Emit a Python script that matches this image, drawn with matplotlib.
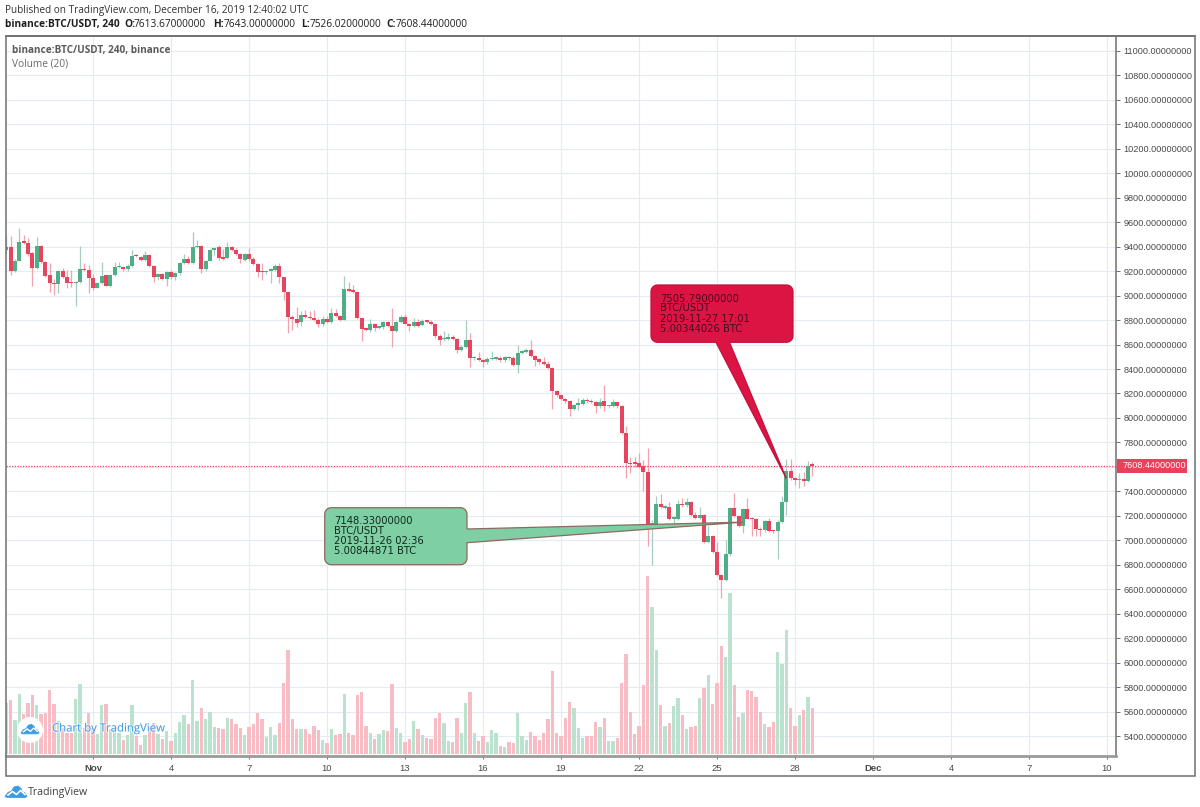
import numpy as np
import matplotlib
matplotlib.use('Agg')
import matplotlib.pyplot as plt
import matplotlib.patheffects as pe
from matplotlib.patches import Polygon, Rectangle, Circle
from matplotlib.transforms import IdentityTransform

W, H = 1200, 807

# bar index 0 = Nov 1 00:00, six 4h bars per day
FIRST_BAR = -20

OPEN = [
    9370, 9400, 9204, 9285, 9441, 9433, 9345, 9228, 9408, 9277,
    9168, 9100, 9095, 9204, 9155, 9105, 9100, 9108, 9217, 9209,
    9141, 9065, 9100, 9168, 9078, 9168, 9231, 9236, 9215, 9242,
    9326, 9318, 9291, 9335, 9242, 9155, 9176, 9135, 9195, 9155,
    9182, 9264, 9299, 9264, 9395, 9405, 9217, 9285, 9373, 9395,
    9310, 9310, 9395, 9373, 9340, 9291, 9340, 9296, 9258, 9204,
    9193, 9201, 9209, 9245, 9149, 9026, 8822, 8811, 8782, 8839,
    8828, 8815, 8804, 8765, 8812, 8782, 8855, 8834, 8804, 9055,
    9044, 9027, 8817, 8733, 8722, 8765, 8738, 8740, 8782, 8755,
    8708, 8782, 8828, 8771, 8749, 8782, 8757, 8790, 8787, 8768,
    8673, 8645, 8648, 8654, 8648, 8558, 8583, 8640, 8487, 8487,
    8476, 8455, 8482, 8482, 8493, 8471, 8498, 8493, 8433, 8531,
    8542, 8558, 8506, 8482, 8457, 8444, 8411, 8217, 8187, 8155,
    8135, 8075, 8108, 8116, 8144, 8138, 8130, 8095, 8135, 8095,
    8100, 8130, 8100, 7876, 7631, 7631, 7631, 7609, 7557, 7120,
    7135, 7298, 7268, 7271, 7176, 7176, 7293, 7285, 7312, 7203,
    7186, 7205, 6985, 7034, 6908, 6717, 6676, 6886, 7260, 7200,
    7118, 7255, 7178, 7170, 7096, 7080, 7159, 7077, 7075, 7148,
    7309, 7563, 7513, 7489, 7497, 7484, 7613.67]
CLOSE = [
    9400, 9204, 9285, 9441, 9433, 9337, 9223, 9408, 9277, 9163,
    9100, 9092, 9204, 9155, 9100, 9100, 9111, 9217, 9209, 9141,
    9065, 9100, 9163, 9081, 9168, 9234, 9236, 9215, 9242, 9326,
    9321, 9291, 9335, 9242, 9155, 9176, 9135, 9195, 9155, 9182,
    9264, 9299, 9264, 9395, 9405, 9217, 9285, 9373, 9389, 9310,
    9302, 9395, 9373, 9340, 9296, 9340, 9296, 9258, 9195, 9193,
    9201, 9217, 9245, 9149, 9026, 8822, 8806, 8773, 8839, 8828,
    8815, 8804, 8765, 8812, 8782, 8855, 8834, 8804, 9055, 9038,
    9027, 8817, 8727, 8722, 8765, 8735, 8744, 8782, 8755, 8708,
    8782, 8828, 8771, 8749, 8782, 8755, 8790, 8785, 8768, 8667,
    8640, 8654, 8654, 8648, 8558, 8583, 8640, 8487, 8493, 8476,
    8455, 8482, 8493, 8498, 8471, 8498, 8487, 8433, 8531, 8545,
    8558, 8506, 8476, 8455, 8444, 8411, 8217, 8187, 8155, 8135,
    8075, 8108, 8116, 8144, 8135, 8130, 8095, 8130, 8095, 8103,
    8130, 8095, 7876, 7631, 7623, 7625, 7601, 7557, 7132, 7140,
    7298, 7271, 7276, 7176, 7181, 7293, 7285, 7312, 7203, 7186,
    7205, 6985, 7034, 6908, 6717, 6676, 6886, 7260, 7200, 7118,
    7255, 7178, 7170, 7096, 7080, 7159, 7075, 7072, 7148, 7309,
    7563, 7508, 7492, 7497, 7484, 7609, 7608.44]
HIGH = [
    9487, 9487, 9300, 9550, 9495, 9468, 9360, 9482, 9410, 9285,
    9264, 9140, 9210, 9225, 9209, 9209, 9120, 9408, 9264, 9250,
    9180, 9110, 9277, 9170, 9180, 9277, 9277, 9245, 9260, 9373,
    9340, 9325, 9367, 9340, 9250, 9185, 9185, 9205, 9210, 9190,
    9275, 9340, 9320, 9517, 9455, 9410, 9295, 9385, 9400, 9414,
    9380, 9441, 9405, 9386, 9350, 9350, 9386, 9318, 9265, 9264,
    9210, 9230, 9260, 9264, 9155, 9030, 8840, 8904, 8872, 8885,
    8872, 8880, 8815, 8831, 8830, 8899, 8890, 8845, 9158, 9109,
    9090, 9035, 8825, 8740, 8809, 8780, 8760, 8795, 8790, 8899,
    8795, 8840, 8850, 8780, 8817, 8809, 8805, 8800, 8804, 8775,
    8690, 8708, 8695, 8680, 8655, 8595, 8804, 8695, 8505, 8536,
    8485, 8495, 8544, 8510, 8505, 8510, 8505, 8505, 8600, 8555,
    8570, 8640, 8515, 8490, 8498, 8463, 8420, 8225, 8195, 8165,
    8145, 8115, 8163, 8163, 8163, 8155, 8135, 8163, 8272, 8110,
    8155, 8140, 8108, 7931, 7680, 7680, 7713, 7658, 7754, 7167,
    7358, 7380, 7290, 7317, 7200, 7331, 7345, 7345, 7322, 7235,
    7276, 7215, 7113, 7045, 6990, 6725, 7004, 7270, 7385, 7210,
    7265, 7345, 7190, 7180, 7105, 7167, 7181, 7085, 7167, 7364,
    7664, 7664, 7520, 7549, 7555, 7645, 7643]
LOW = [
    9350, 9168, 9190, 9285, 9420, 9320, 9081, 9220, 9270, 9150,
    9032, 9005, 9018, 9145, 9059, 9073, 8915, 9105, 9200, 9024,
    9045, 9060, 9095, 9075, 9072, 9160, 9225, 9205, 9200, 9235,
    9315, 9285, 9285, 9235, 9114, 9125, 9125, 9078, 9140, 9130,
    9165, 9255, 9260, 9255, 9390, 9182, 9205, 9280, 9330, 9295,
    9290, 9300, 9365, 9330, 9264, 9285, 9285, 9250, 9155, 9127,
    9180, 9100, 9200, 9100, 8964, 8696, 8718, 8740, 8749, 8820,
    8805, 8795, 8744, 8755, 8775, 8775, 8825, 8795, 8800, 9030,
    9020, 8810, 8626, 8715, 8700, 8708, 8725, 8730, 8745, 8577,
    8700, 8775, 8765, 8708, 8740, 8745, 8750, 8775, 8760, 8655,
    8600, 8630, 8640, 8640, 8530, 8545, 8575, 8414, 8470, 8465,
    8414, 8445, 8475, 8475, 8460, 8460, 8475, 8425, 8367, 8520,
    8535, 8495, 8427, 8445, 8435, 8400, 8073, 8175, 8145, 8125,
    8013, 8065, 8062, 8105, 8125, 8120, 8040, 8085, 8054, 8085,
    8090, 8085, 7870, 7508, 7549, 7600, 7590, 7399, 6955, 6799,
    7125, 7260, 7255, 7165, 7140, 7165, 7275, 7275, 7195, 7175,
    7175, 6975, 6975, 6900, 6705, 6526, 6665, 6875, 7190, 7110,
    7058, 7170, 7031, 7031, 7031, 7070, 7065, 7060, 6845, 7140,
    7208, 7495, 7454, 7426, 7445, 7480, 7526]
VOLUME = [
    153, 162, 102, 182, 120, 155, 177, 147, 120, 123,
    192, 150, 99, 80, 65, 65, 165, 212, 80, 125,
    80, 60, 147, 150, 75, 75, 65, 42, 57, 147,
    55, 28, 57, 80, 95, 60, 45, 70, 40, 65,
    97, 117, 90, 222, 100, 140, 105, 127, 83, 78,
    75, 110, 105, 90, 78, 57, 83, 92, 125, 107,
    52, 82, 57, 93, 215, 312, 105, 75, 75, 75,
    60, 85, 73, 42, 35, 75, 57, 62, 180, 63,
    57, 178, 188, 85, 65, 45, 62, 73, 70, 210,
    78, 65, 38, 45, 100, 75, 58, 50, 45, 110,
    123, 93, 41, 36, 108, 65, 155, 188, 65, 40,
    55, 38, 73, 63, 26, 23, 36, 33, 125, 55,
    43, 68, 55, 43, 65, 106, 250, 63, 56, 108,
    158, 140, 78, 48, 55, 56, 96, 83, 110, 40,
    40, 48, 215, 300, 128, 61, 85, 207, 535, 441,
    313, 148, 85, 93, 145, 168, 118, 76, 83, 85,
    168, 198, 237, 151, 213, 325, 293, 485, 207, 113,
    123, 193, 191, 171, 128, 91, 81, 96, 308, 271,
    373, 138, 86, 118, 133, 173, 138]

DATE_TICKS = [0, 18, 36, 54, 72, 90, 108, 126, 144, 162, 180, 198, 216, 234]
DATE_LABELS = ['Nov', '4', '7', '10', '13', '16', '19', '22', '25', '28', 'Dec', '4', '7', '10']
PRICE_TICKS = list(range(5400, 11001, 200))
LAST_PRICE = 7608.44

BUY_BAR, BUY_PRICE = 150, 7148.33
SELL_BAR, SELL_PRICE = 160, 7505.79
BUY_TEXT = ['7148.33000000', 'BTC/USDT', '2019-11-26 02:36', '5.00844871 BTC']
SELL_TEXT = ['7505.79000000', 'BTC/USDT', '2019-11-27 17:01', '5.00344026 BTC']

RED, GREEN = '#E6455F', '#4FAE85'
RED_WICK, GREEN_WICK = '#F1A3AF', '#A6CDBE'
RED_VOL, GREEN_VOL = '#F8BCC5', '#BBE1CF'
GRID = '#E4EBF2'
FRAME = '#6F6F6F'
TXT = '#4A4A4A'


def fx(x):
    return x / W


def fy(y):
    return 1 - y / H


def px_text(x, y, s, **kw):
    kw.setdefault('va', 'center')
    kw.setdefault('ha', 'left')
    return fig.text(fx(x), fy(y), s, **kw)


def corner(cx, cy, r, a0, a1):
    t = np.radians(np.linspace(a0, a1, 8))
    return np.c_[cx + r * np.cos(t), cy + r * np.sin(t)]


def callout(x0, y0, x1, y1, r, base, tip, side, face, edge):
    # rounded box with its pointer, as one outline in image pixels
    parts = [corner(x0 + r, y0 + r, r, 180, 270), corner(x1 - r, y0 + r, r, 270, 360)]
    if side == 'right':
        parts.append(np.array([[x1, base[0]], tip, [x1, base[1]]]))
    parts.append(corner(x1 - r, y1 - r, r, 0, 90))
    if side == 'bottom':
        parts.append(np.array([[base[1], y1], tip, [base[0], y1]]))
    parts.append(corner(x0 + r, y1 - r, r, 90, 180))
    pts = np.vstack(parts)
    xy = np.c_[pts[:, 0] / W, 1 - pts[:, 1] / H]
    fig.add_artist(Polygon(xy, closed=True, transform=fig.transFigure, facecolor=face,
                           edgecolor=edge, lw=0.9, zorder=5))


def data_px(bar, price):
    d = ax.transData.transform((bar, price))
    return d[0] * W / fig.bbox.width, H - d[1] * H / fig.bbox.height


def cloud(x0, y0, w, color, line):
    # TradingView cloud mark, x0/y0 = top left of the icon
    s = w / 22
    shape = [(0, 11), (3, 7), (6.5, 5.5), (9, 1.5), (13, 0.5), (16, 3), (17, 6), (20, 7.5), (22, 11),
             (20, 12), (2, 12)]
    xy = [(fx(x0 + a * s), fy(y0 + b * s)) for a, b in shape]
    fig.add_artist(Polygon(xy, closed=True, transform=fig.transFigure, facecolor=color,
                           edgecolor=color, lw=0.6, zorder=6))
    zig = [(3, 9.5), (7.5, 6), (11.5, 9), (15.5, 5), (20, 9)]
    fig.add_artist(plt.Line2D([fx(x0 + a * s) for a, b in zig], [fy(y0 + b * s) for a, b in zig],
                              transform=fig.transFigure, color=line, lw=1.2 * s, zorder=7))


bars = np.arange(FIRST_BAR, FIRST_BAR + len(OPEN))
o, h, l, c = map(np.array, (OPEN, HIGH, LOW, CLOSE))
up = c >= o

plt.rcParams['font.family'] = ['Liberation Sans', 'DejaVu Sans']
fig = plt.figure(figsize=(W / 100, H / 100), dpi=100)
fig.patch.set_facecolor('white')

pos = [fx(5.5), fy(756), fx(1116.3 - 5.5), (756 - 36) / H]
ax = fig.add_axes(pos)
ax.set_xlim(-20.19, 236.15)
ax.set_ylim(5236.5, 11122.6)

ax.set_xticks(DATE_TICKS)
ax.set_xticklabels(DATE_LABELS, fontsize=6.8, color=TXT)
for t, lab in zip(ax.get_xticklabels(), DATE_LABELS):
    if lab in ('Nov', 'Dec'):
        t.set_fontweight('bold')
ax.set_yticks(PRICE_TICKS)
ax.set_yticklabels([f'{v}.00000000' for v in PRICE_TICKS], fontsize=6.6, color=TXT)
ax.yaxis.tick_right()
ax.tick_params(axis='x', length=2.2, width=0.7, color=FRAME, pad=3.5)
ax.tick_params(axis='y', length=3, width=0.7, color=FRAME, pad=2.2)
ax.grid(True, color=GRID, lw=0.8, zorder=0)
ax.set_axisbelow(True)
for s in ['top', 'left']:
    ax.spines[s].set_visible(False)
ax.spines['right'].set_color(FRAME)
ax.spines['right'].set_linewidth(1.1)
ax.spines['bottom'].set_color('#9A9A9A')
ax.spines['bottom'].set_linewidth(2)

# candles
ax.vlines(bars[up], l[up], h[up], color=GREEN_WICK, lw=0.9, zorder=2)
ax.vlines(bars[~up], l[~up], h[~up], color=RED_WICK, lw=0.9, zorder=2)
body = np.maximum(np.abs(c - o), 12)
ax.bar(bars, body, bottom=np.minimum(o, c), width=0.86,
       color=[GREEN if u else RED for u in up], linewidth=0, zorder=3)
ax.axhline(LAST_PRICE, color=RED, lw=0.9, ls=(0, (1, 1.2)), zorder=2)

# volume pane, same x range, no scale shown
ax_vol = fig.add_axes(pos, facecolor='none')
ax_vol.set_xlim(ax.get_xlim())
ax_vol.set_ylim(-5, 2155)
ax_vol.axis('off')
ax_vol.bar(bars, VOLUME, width=0.76, color=[GREEN_VOL if u else RED_VOL for u in up], linewidth=0)

# outer frame
fig.add_artist(Rectangle((fx(5.5), fy(776.3)), fx(1195 - 5.5), (776.3 - 36) / H,
                         transform=fig.transFigure, fill=False, edgecolor=FRAME, lw=1.1, zorder=4))
fig.add_artist(plt.Line2D([fx(5.5), fx(1195)], [fy(36), fy(36)], transform=fig.transFigure,
                          color=FRAME, lw=1.2, zorder=4))

# header text
px_text(5, 10.5, 'Published on TradingView.com, December 16, 2019 12:40:02 UTC',
        family='Open Sans', fontsize=7.24, color='#333333')
hdr = [('binance:BTC/USDT, 240', 5, 'bold'), ('O:', 124, 'bold'), ('7613.67000000', 134, 'normal'),
       ('H:', 213, 'bold'), ('7643.00000000', 224, 'normal'), ('L:', 300.7, 'bold'),
       ('7526.02000000', 310, 'normal'), ('C:', 386, 'bold'), ('7608.44000000', 396, 'normal')]
for s, x, wt in hdr:
    px_text(x, 24.5, s, family='Open Sans', fontsize=7.3, fontweight=wt, color='#1E1E1E')
px_text(12.5, 50, 'binance:BTC/USDT, 240, binance', family='Open Sans', fontsize=7.2,
        fontweight='bold', color='#5C5C5C')
px_text(12.5, 64, 'Volume (20)', family='Open Sans', fontsize=7.25, color='#6A6A6A')

# last price tag
fig.add_artist(Rectangle((fx(1116.5), fy(472.5)), fx(70.5), 13.8 / H, transform=fig.transFigure,
                         facecolor='#EB3F5C', edgecolor='none', zorder=5))
px_text(1123, 465.7, f'{LAST_PRICE:.8f}', fontsize=6.6, color='white', zorder=6)

# trade callouts
callout(651, 285, 793, 342.3, 6.5, (716, 729.5), data_px(SELL_BAR, SELL_PRICE), 'bottom', '#DC1444', '#C4103C')
for i, s in enumerate(SELL_TEXT):
    px_text(660, 298.5 + i * 10, s, family='DejaVu Sans', fontsize=7.2, color='#4A0A1E', zorder=6)
callout(324.7, 507.7, 467, 564.7, 6.5, (529, 542.7), data_px(BUY_BAR, BUY_PRICE), 'right', '#7FCFA4', '#8C6A60')
for i, s in enumerate(BUY_TEXT):
    px_text(334, 521 + i * 10, s, family='DejaVu Sans', fontsize=7.2, color='#0E2A1C', zorder=6)

# watermark and footer
fig.add_artist(Circle((30, H - 730), 13, transform=IdentityTransform(), facecolor='white',
                      edgecolor='none', zorder=5))
cloud(21, 724, 18, '#3C9BE3', 'white')
mark = px_text(52, 729, 'Chart by TradingView', family='Open Sans', fontsize=8.2, color='#3B9BE8', zorder=6)
mark.set_path_effects([pe.withStroke(linewidth=1.6, foreground='white', alpha=0.6)])
cloud(5, 785.5, 22, '#3C9BE3', 'white')
px_text(28, 792, 'TradingView', family='Open Sans', fontsize=7.6, color='#3F3F3F')

fig.savefig('out.png', dpi=100, facecolor='white')
